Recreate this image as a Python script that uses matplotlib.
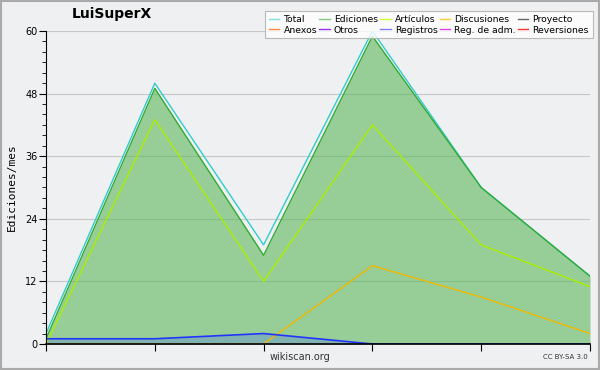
import numpy as np
import matplotlib
matplotlib.use("Agg")
import matplotlib.pyplot as plt
from matplotlib.lines import Line2D

# --- datos (ediciones por mes) ---
meses = [0, 1, 2, 3, 4, 5]
total = [2, 50, 19, 60, 30, 13]
ediciones = [1, 49, 17, 59, 30, 13]
articulos = [0, 43, 12, 42, 19, 11]
discusiones = [0, 0, 0, 15, 9, 2]
registros = [1, 1, 2, 0, 0, 0]

leyenda_nombres = ['Total', 'Ediciones', 'Artículos', 'Discusiones', 'Proyecto',
                   'Anexos', 'Otros', 'Registros', 'Reg. de adm.', 'Reversiones']
leyenda_colores = ['#80e0e0', '#80cc80', '#ccff33', '#ffcc33', '#666666',
                   '#ff8844', '#9933ee', '#7f7fff', '#dd44ee', '#ff3333']

fondo = '#eff0f1'
fig = plt.figure(figsize=(6, 3.7), dpi=100, facecolor=fondo)
ax = fig.add_axes([0.0767, 0.0703, 0.9066, 0.8459], facecolor=fondo)

# rellenos
ax.fill_between(meses, ediciones, 0, color='#5cb85c', alpha=0.6, lw=0, zorder=2)
ax.fill_between(meses, registros, 0, color='#4060ff', alpha=0.25, lw=0, zorder=2)

# lineas
ax.plot(meses, total, color='#33cccc', lw=1.0, zorder=4)
ax.plot(meses, ediciones, color='#33aa33', lw=1.0, zorder=4)
ax.plot(meses, articulos, color='#aaee00', lw=1.0, zorder=4)
ax.plot(meses, discusiones, color='#f0b800', lw=1.0, zorder=3)
ax.plot(meses, registros, color='#2233ff', lw=1.2, zorder=4)

ax.set_xlim(0, 5)
ax.set_ylim(0, 60)
ax.set_yticks(np.arange(0, 61, 12))
ax.set_yticks(np.arange(0, 61, 2), minor=True)
ax.set_xticks(meses)
ax.set_xticklabels([])
ax.grid(axis='y', which='major', color='#c8c8c8', lw=0.8, zorder=1)
ax.tick_params(axis='y', which='major', length=5, labelsize=7, colors='black', pad=1)
ax.tick_params(axis='y', which='minor', length=3)
ax.tick_params(axis='x', which='major', length=5, direction='out')
for lado in ['top', 'right']:
    ax.spines[lado].set_visible(False)
ax.spines['left'].set_zorder(5)
ax.spines['bottom'].set_zorder(5)
ax.spines['bottom'].set_linewidth(1.2)

ax.set_ylabel('Ediciones/mes', family='DejaVu Sans Mono', fontsize=8, labelpad=6)

fig.text(0.187, 0.962, 'LuiSuperX', fontsize=10, fontweight='bold', ha='center', va='center')
fig.text(0.5, 0.035, 'wikiscan.org', fontsize=7, color='#333333', ha='center', va='center')
fig.text(0.98, 0.035, 'CC BY-SA 3.0', fontsize=5, color='#333333', ha='right', va='center')

# leyenda (orden por columnas)
handles = [Line2D([0], [0], color=c, lw=1) for c in leyenda_colores]
orden = [0, 5, 1, 6, 2, 7, 3, 8, 4, 9]
leg = fig.legend([handles[i] for i in orden], [leyenda_nombres[i] for i in orden],
                 ncol=5, loc='upper right', bbox_to_anchor=(0.988, 0.970),
                 fontsize=6.7, frameon=True, fancybox=False, edgecolor='#aaaaaa',
                 handlelength=1.1, handletextpad=0.45, columnspacing=0.25,
                 labelspacing=0.2, borderpad=0.4, borderaxespad=0)
leg.get_frame().set_linewidth(0.8)

# borde de la figura
fig.patches.append(plt.Rectangle((0.002, 0.003), 0.996, 0.994, transform=fig.transFigure,
                                 fill=False, edgecolor='#aaaaaa', lw=1.5))

fig.savefig('out.png', dpi=100, facecolor=fondo)
